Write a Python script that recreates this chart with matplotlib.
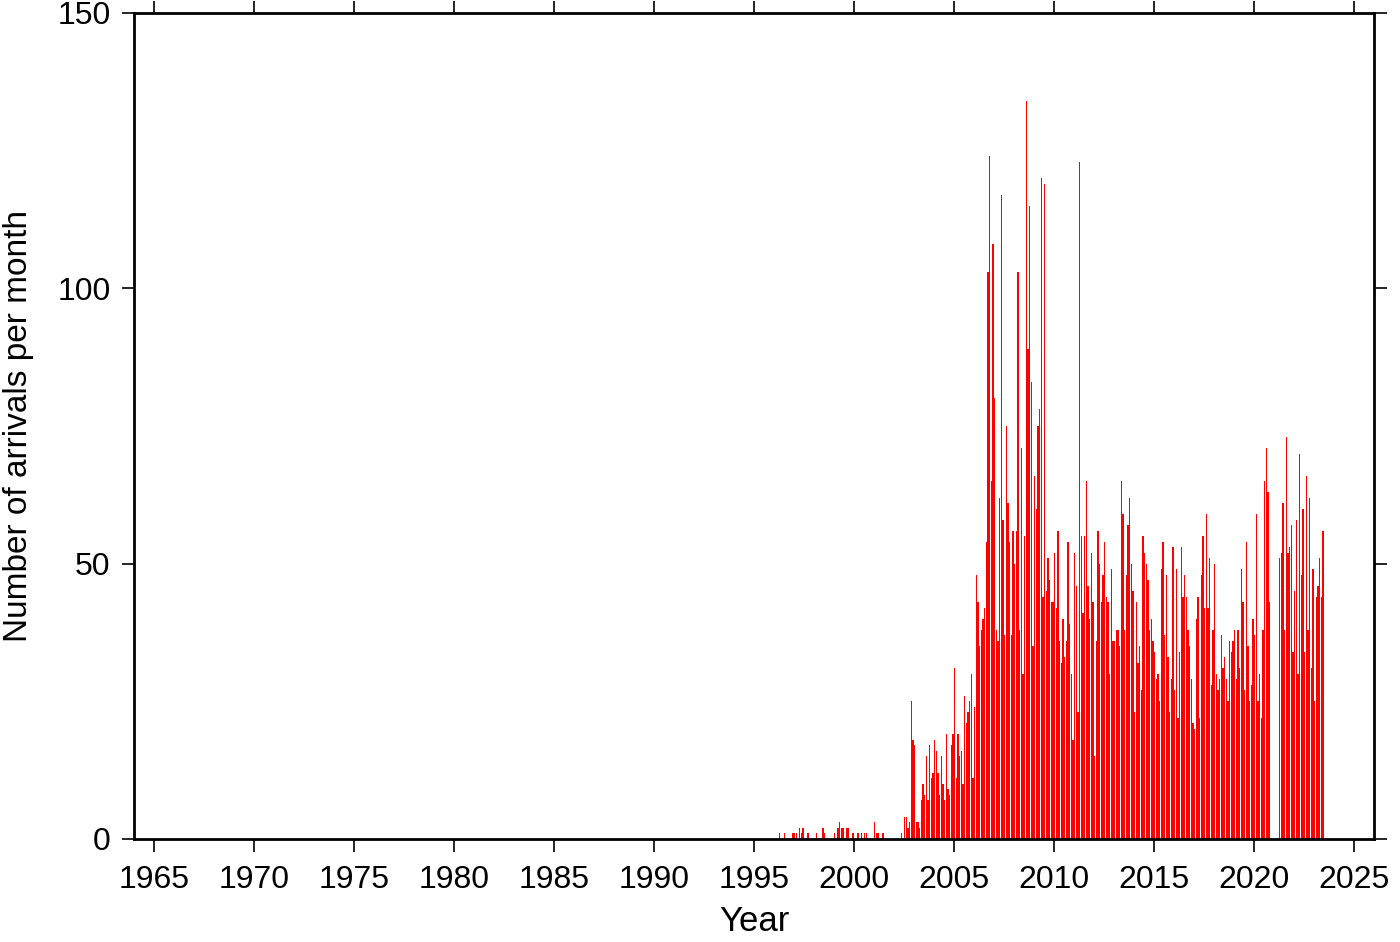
import matplotlib
matplotlib.use("Agg")
import matplotlib.pyplot as plt
import numpy as np

# Monthly arrival counts; month index 0 = January 1996
start_year = 1996

# Sparse early period (month index -> count)
early_months = [3, 6, 11, 12, 13, 15, 16, 17, 20, 25, 29, 30, 36, 38, 39, 40, 41,
                43, 44, 47, 50, 52, 54, 55, 60, 61, 62, 65, 76]
early_counts = [1, 1, 1, 1, 1, 2, 1, 2, 1, 1, 2, 1, 1, 2, 3, 2, 2,
                2, 2, 1, 1, 1, 1, 1, 3, 1, 1, 1, 1]

# Continuous record starting at month index 78 (July 2002) until the 2020 gap
main_start = 78
main_counts = [
    4, 4, 2, 3, 25, 18, 17, 3, 3, 2, 7, 10, 8, 15, 7, 17, 11, 12, 18, 16, 12, 8,
    15, 10, 7, 19, 9, 8, 17, 19, 31, 11, 19, 15, 16, 10, 26, 21, 23, 25, 30, 11, 24,
    48, 43, 35, 38, 40, 42, 54, 103, 124, 65, 108, 80, 38, 36, 62, 117, 58, 37, 75,
    61, 54, 37, 56, 50,
    56, 103, 38, 71, 30, 55, 134, 89, 115, 83, 35, 66, 60, 75, 78, 120, 44, 119, 45,
    51, 47, 43, 43, 52,
    42, 56, 36, 32, 40, 33, 36, 54, 39, 30, 18, 52, 46, 23, 123, 55, 41, 55, 65, 46,
    40, 52, 43, 15,
    36, 56, 50, 43, 48, 54, 44, 43, 30, 49, 36, 36, 38, 38, 35, 65, 59, 38, 48, 57,
    62, 50, 45, 23, 43, 32, 35,
    27, 55, 52, 50, 47, 38, 40, 36, 34, 29, 30, 25, 49, 54, 37, 48, 33, 23, 29, 53,
    27, 49, 22, 34, 53, 44, 48,
    44, 38, 35, 29, 21, 20, 40, 44, 22, 48, 55, 42, 59, 42, 51, 28, 38, 50, 30, 27,
    29, 37, 31,
    33, 29, 25, 36, 34, 36, 38, 29, 38, 31, 49, 43, 27, 54, 35, 25, 28, 40, 37, 59,
    25, 30, 22, 38, 65, 71, 63, 43,
]

# Record after the gap, starting at month index 303 (April 2021)
late_start = 303
late_counts = [51, 52, 61, 38, 73, 52, 53, 57, 34, 45, 58, 30, 70, 48, 60, 34, 66,
               38, 62, 31, 49, 25, 44, 46, 51, 44, 56]

x_ticks = list(range(1965, 2030, 5))
y_ticks = [0, 50, 100, 150]

# Assemble month positions / counts
idx = list(early_months) \
    + [main_start + i for i in range(len(main_counts))] \
    + [late_start + i for i in range(len(late_counts))]
vals = list(early_counts) + list(main_counts) + list(late_counts)
xpos = start_year + np.array(idx) / 12.0

plt.rcParams['font.family'] = ['Liberation Sans', 'DejaVu Sans']

fig = plt.figure(figsize=(14, 9.42), dpi=100)
ax = fig.add_axes([134 / 1400, 1 - 839 / 942, (1374 - 134) / 1400, (839 - 13) / 942])

ax.bar(xpos, vals, width=0.85 / 12, align='edge', color='#ff0000', linewidth=0)

ax.set_xlim(1964, 2026)
ax.set_ylim(0, 150)
ax.set_xticks(x_ticks)
ax.set_yticks(y_ticks)
ax.tick_params(axis='both', which='major', direction='out', length=9, width=1.2,
               labelsize=23, top=True, right=True, pad=8)
ax.tick_params(axis='x', pad=10)
for s in ax.spines.values():
    s.set_linewidth(2)
ax.set_xlabel('Year', fontsize=25, labelpad=7)
ax.set_ylabel('Number of arrivals per month', fontsize=24, labelpad=17)

fig.savefig('out.png', dpi=100)
